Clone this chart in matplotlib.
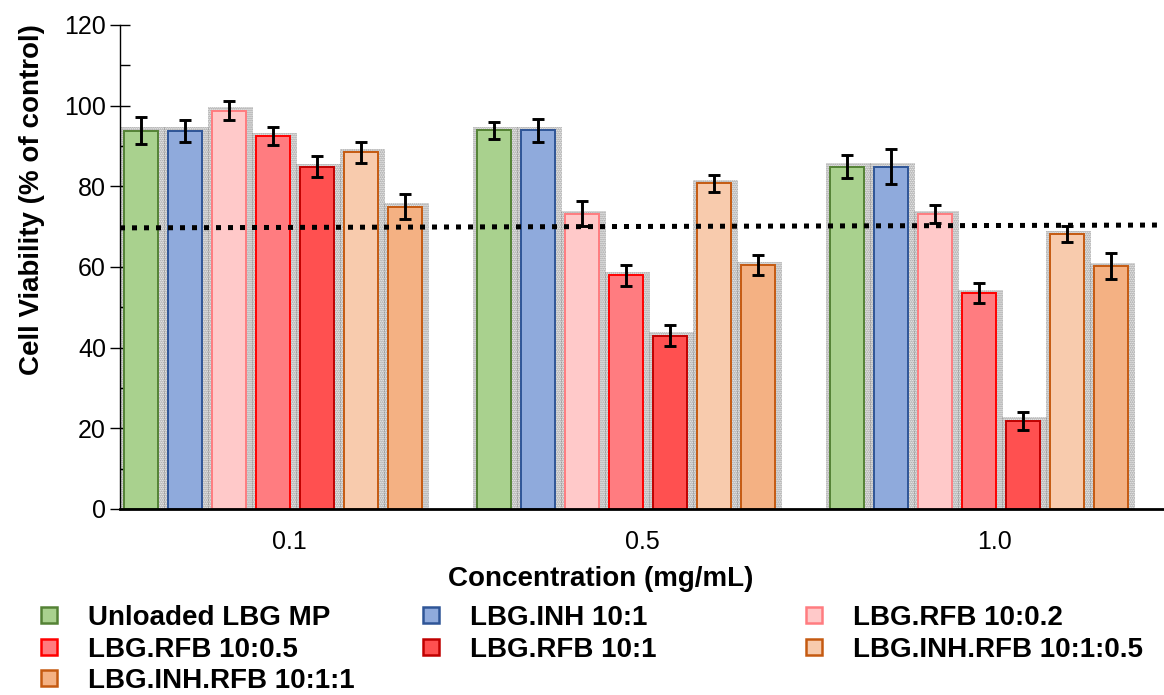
import matplotlib
matplotlib.use("Agg")
import matplotlib.pyplot as plt
import numpy as np
from matplotlib.patches import Rectangle
from matplotlib.lines import Line2D

plt.rcParams['font.family'] = ['Liberation Sans', 'DejaVu Sans']

categories = ["0.1", "0.5", "1.0"]
series = ["Unloaded LBG MP", "LBG.INH 10:1", "LBG.RFB 10:0.2", "LBG.RFB 10:0.5",
          "LBG.RFB 10:1", "LBG.INH.RFB 10:1:0.5", "LBG.INH.RFB 10:1:1"]
unloaded = [93.8, 93.9, 84.9]
inh = [93.8, 93.9, 84.9]
rfb_02 = [98.8, 73.2, 73.1]
rfb_05 = [92.5, 57.9, 53.6]
rfb_1 = [84.8, 43.0, 21.9]
inh_rfb_05 = [88.4, 80.8, 68.2]
inh_rfb_1 = [75.0, 60.4, 60.2]
unloaded_err = [3.4, 2.1, 2.9]
inh_err = [2.7, 2.9, 4.4]
rfb_02_err = [2.3, 3.1, 2.3]
rfb_05_err = [2.2, 2.6, 2.5]
rfb_1_err = [2.6, 2.6, 2.2]
inh_rfb_05_err = [2.5, 2.1, 2.0]
inh_rfb_1_err = [3.2, 2.5, 3.2]
threshold = [69.7, 70.4]

values = [unloaded, inh, rfb_02, rfb_05, rfb_1, inh_rfb_05, inh_rfb_1]
errors = [unloaded_err, inh_err, rfb_02_err, rfb_05_err, rfb_1_err, inh_rfb_05_err, inh_rfb_1_err]
faces = ["#A9D18E", "#8FAADC", "#FFC9C9", "#FF7C80", "#FF5050", "#F8CBAD", "#F4B183"]
edges = ["#548235", "#2F5597", "#FF7C80", "#FF0000", "#C00000", "#C55A11", "#C55A11"]

fig = plt.figure(figsize=(11.64, 6.95), dpi=100)
ax = fig.add_axes([120/1164, 1-509/695, 1-120/1164, (509-25)/695])

x = np.arange(len(categories))
width = 0.0963
pitch = 0.1246
offset0 = -0.045
for i, (vals, errs) in enumerate(zip(values, errors)):
    xs = x + offset0 + (i - 3) * pitch
    # soft shadow
    for xi, v in zip(xs, vals):
        ax.add_patch(Rectangle((xi - width/2 - 0.012, 0), width + 0.032, v + 0.8,
                               facecolor='none', edgecolor='#8a8a8a', linewidth=0,
                               hatch='........', zorder=1))
    ax.bar(xs, vals, width=width, color=faces[i], edgecolor=edges[i], linewidth=1.4,
           zorder=2, label=series[i])
    ax.errorbar(xs, vals, yerr=errs, fmt='none', ecolor='black', elinewidth=2.1,
                capsize=4.5, capthick=2.1, zorder=4)

ax.plot([-0.479, 2.459], threshold, color='black', linewidth=3.6,
        linestyle=(0, (1, 1.4)), zorder=5)

ax.set_xlim(-0.479, 2.479)
ax.set_ylim(0, 120)
ax.set_xticks(x)
ax.set_xticklabels(categories)
ax.set_yticks(np.arange(0, 121, 20))
ax.set_yticks(np.arange(0, 121, 10), minor=True)
ax.tick_params(axis='x', length=0, labelsize=18, pad=15)
ax.tick_params(axis='y', which='major', direction='inout', length=14, width=1, labelsize=18, pad=3)
ax.tick_params(axis='y', which='minor', direction='in', length=7, width=1)
for s in ['top', 'right']:
    ax.spines[s].set_visible(False)
ax.spines['bottom'].set_linewidth(2)
ax.spines['left'].set_linewidth(1)

ax.set_ylabel("Cell Viability (% of control)", fontsize=20, fontweight='bold')
ax.yaxis.set_label_coords(-0.072, 0.64)
ax.set_xlabel("Concentration (mg/mL)", fontsize=20, fontweight='bold')
ax.xaxis.set_label_coords(0.46, -0.118)

handles = [Line2D([], [], linestyle='none', marker='s', markersize=11,
                  markerfacecolor=faces[i], markeredgecolor=edges[i], markeredgewidth=1.8)
           for i in range(len(series))]
cols = [[0, 3, 6], [1, 4], [2, 5]]
xpos = [38/1164, 420/1164, 803/1164]
for c, xp in zip(cols, xpos):
    fig.legend([handles[i] for i in c], [series[i] for i in c], loc='upper left',
               bbox_to_anchor=(xp, 1-605/695), frameon=False, ncol=1,
               prop={'size': 20, 'weight': 'bold'}, handlelength=0.8,
               handletextpad=1.0, labelspacing=0.2, borderaxespad=0, borderpad=0)

fig.savefig("out.png", dpi=100)
